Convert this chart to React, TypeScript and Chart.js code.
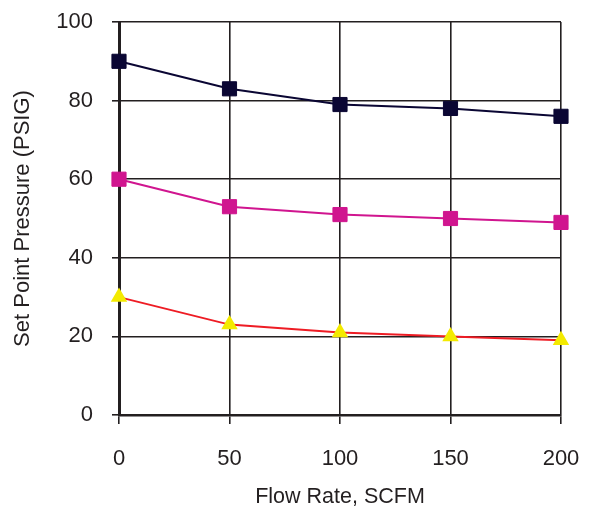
import React, { useEffect, useRef } from "react";
import { Chart, registerables } from "chart.js";

Chart.register(...registerables);

const flowRates = [0, 50, 100, 150, 200];
const seriesHigh = [90, 83, 79, 78, 76];
const seriesMid = [60, 53, 51, 50, 49];
const seriesLow = [30, 23, 21, 20, 19];
const xTicks = [0, 50, 100, 150, 200];
const yTicks = [0, 20, 40, 60, 80, 100];

const FONT = "'Liberation Sans', Arial, sans-serif";
const GRID = "#231f20";

export default function App() {
  const ref = useRef<HTMLCanvasElement | null>(null);

  useEffect(() => {
    if (!ref.current) return;
    const pts = (ys: number[]) => flowRates.map((x, i) => ({ x, y: ys[i] }));
    const chart = new Chart(ref.current, {
      type: "line",
      data: {
        datasets: [
          {
            label: "High",
            data: pts(seriesHigh),
            borderColor: "#0a0633",
            backgroundColor: "#0a0633",
            borderWidth: 2,
            pointStyle: "rect",
            pointRadius: 10,
            pointBorderWidth: 1,
            pointBorderColor: "#0a0633",
            pointBackgroundColor: "#0a0633",
            clip: false,
          },
          {
            label: "Mid",
            data: pts(seriesMid),
            borderColor: "#d0158f",
            backgroundColor: "#d0158f",
            borderWidth: 2,
            pointStyle: "rect",
            pointRadius: 10,
            pointBorderWidth: 1,
            pointBorderColor: "#d0158f",
            pointBackgroundColor: "#d0158f",
            clip: false,
          },
          {
            label: "Low",
            data: pts(seriesLow),
            borderColor: "#ee1c24",
            backgroundColor: "#f3ea00",
            borderWidth: 2,
            pointStyle: "triangle",
            pointRadius: 9.5,
            pointBorderWidth: 0,
            pointBorderColor: "#f3ea00",
            pointBackgroundColor: "#f3ea00",
            clip: false,
          },
        ],
      },
      options: {
        responsive: false,
        animation: false,
        devicePixelRatio: 1,
        layout: { padding: { top: 22, right: 34, bottom: 0, left: 0 } },
        plugins: { legend: { display: false }, tooltip: { enabled: false } },
        scales: {
          x: {
            type: "linear",
            min: 0,
            max: 200,
            afterBuildTicks: (s: any) => {
              s.ticks = xTicks.map((v) => ({ value: v }));
            },
            afterFit: (s: any) => {
              s.height = 95;
              s.paddingLeft = 0;
              s.paddingRight = 0;
              s.paddingTop = 0;
              s.paddingBottom = 0;
            },
            grid: { color: GRID, lineWidth: 1.6, tickLength: 9, tickColor: GRID, tickWidth: 1.6 },
            border: { color: GRID, width: 2.5 },
            ticks: { color: "#231f20", padding: 22, font: { family: FONT, size: 22 } },
            title: {
              display: true,
              text: "Flow Rate, SCFM",
              color: "#231f20",
              font: { family: FONT, size: 21.5 },
              padding: { top: 0, bottom: 0 },
            },
          },
          y: {
            type: "linear",
            min: 0,
            max: 100,
            afterBuildTicks: (s: any) => {
              s.ticks = yTicks.map((v) => ({ value: v }));
            },
            afterFit: (s: any) => {
              s.width = 119;
              s.paddingLeft = 0;
              s.paddingRight = 0;
              s.paddingTop = 0;
              s.paddingBottom = 0;
            },
            grid: { color: GRID, lineWidth: 1.6, tickLength: 7, tickColor: GRID, tickWidth: 1.6 },
            border: { color: GRID, width: 3 },
            ticks: { color: "#231f20", padding: 19, font: { family: FONT, size: 22 } },
            title: {
              display: true,
              text: "Set Point Pressure (PSIG)",
              color: "#231f20",
              font: { family: FONT, size: 22 },
              padding: { top: 10, bottom: 0 },
            },
          },
        },
      },
    });
    return () => chart.destroy();
  }, []);

  return (
    <div style={{ position: "absolute", left: 0, top: 0, width: 595, height: 510, background: "#fff" }}>
      <canvas ref={ref} width={595} height={510} style={{ width: 595, height: 510 }} />
    </div>
  );
}
